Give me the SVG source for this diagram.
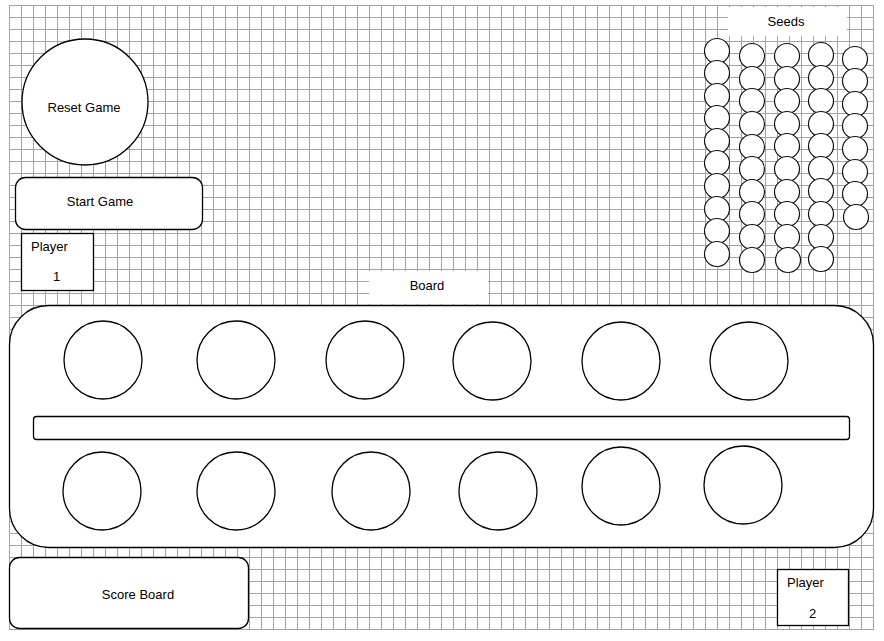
<svg xmlns="http://www.w3.org/2000/svg" width="884" height="641" viewBox="0 0 884 641">
<style>
.shape{fill:#fff;stroke:#000;stroke-width:1.3}
.seed{fill:#fff;stroke:#111;stroke-width:1.2}
.lbl{font-family:"Liberation Sans",Arial,sans-serif;font-size:13px;fill:#000}
.c{text-anchor:middle}
</style>
<defs>
<pattern id="grid" patternUnits="userSpaceOnUse" x="9" y="5" width="12" height="12">
<path d="M0.5 0V12M0 0.5H12" fill="none" stroke="#a3a3a3" stroke-width="1"/>
</pattern>
</defs>
<rect width="884" height="641" fill="#fff"/>
<rect x="9" y="5" width="865" height="625" fill="url(#grid)"/>

<g id="reset-game">
<circle class="shape" cx="85" cy="102" r="63"/>
<text class="lbl c" x="84" y="112">Reset Game</text>
</g>
<g id="start-game">
<rect class="shape" x="15.5" y="177.5" width="187" height="52" rx="10"/>
<text class="lbl c" x="100" y="206">Start Game</text>
</g>
<g id="player-1">
<rect class="shape" x="21.5" y="233.5" width="72" height="57"/>
<text class="lbl" x="31" y="251">Player</text>
<text class="lbl" x="53" y="281">1</text>
</g>
<g id="seeds-label">
<rect x="728" y="7" width="119" height="29" fill="#fff"/>
<text class="lbl c" x="786" y="26">Seeds</text>
</g>
<g id="seeds">
<circle class="seed" cx="717" cy="51" r="12.5"/>
<circle class="seed" cx="717" cy="73" r="12.5"/>
<circle class="seed" cx="717" cy="96" r="12.5"/>
<circle class="seed" cx="717" cy="118" r="12.5"/>
<circle class="seed" cx="717" cy="141" r="12.5"/>
<circle class="seed" cx="717" cy="163" r="12.5"/>
<circle class="seed" cx="717" cy="186" r="12.5"/>
<circle class="seed" cx="717" cy="209" r="12.5"/>
<circle class="seed" cx="717" cy="231" r="12.5"/>
<circle class="seed" cx="717" cy="254" r="12.5"/>
<circle class="seed" cx="752" cy="56" r="12.5"/>
<circle class="seed" cx="752" cy="79" r="12.5"/>
<circle class="seed" cx="752" cy="101" r="12.5"/>
<circle class="seed" cx="752" cy="124" r="12.5"/>
<circle class="seed" cx="752" cy="147" r="12.5"/>
<circle class="seed" cx="752" cy="169" r="12.5"/>
<circle class="seed" cx="752" cy="192" r="12.5"/>
<circle class="seed" cx="752" cy="214" r="12.5"/>
<circle class="seed" cx="752" cy="237" r="12.5"/>
<circle class="seed" cx="752" cy="260" r="12.5"/>
<circle class="seed" cx="787" cy="56" r="12.5"/>
<circle class="seed" cx="787" cy="79" r="12.5"/>
<circle class="seed" cx="787" cy="101" r="12.5"/>
<circle class="seed" cx="787" cy="124" r="12.5"/>
<circle class="seed" cx="787" cy="146" r="12.5"/>
<circle class="seed" cx="787" cy="169" r="12.5"/>
<circle class="seed" cx="787" cy="192" r="12.5"/>
<circle class="seed" cx="787" cy="214" r="12.5"/>
<circle class="seed" cx="787" cy="237" r="12.5"/>
<circle class="seed" cx="788" cy="260" r="12.5"/>
<circle class="seed" cx="821" cy="55" r="12.5"/>
<circle class="seed" cx="821" cy="78" r="12.5"/>
<circle class="seed" cx="821" cy="101" r="12.5"/>
<circle class="seed" cx="821" cy="124" r="12.5"/>
<circle class="seed" cx="821" cy="146" r="12.5"/>
<circle class="seed" cx="821" cy="169" r="12.5"/>
<circle class="seed" cx="821" cy="191" r="12.5"/>
<circle class="seed" cx="821" cy="214" r="12.5"/>
<circle class="seed" cx="821" cy="237" r="12.5"/>
<circle class="seed" cx="821" cy="259" r="12.5"/>
<circle class="seed" cx="855" cy="59" r="12.5"/>
<circle class="seed" cx="855" cy="81" r="12.5"/>
<circle class="seed" cx="855" cy="104" r="12.5"/>
<circle class="seed" cx="855" cy="126" r="12.5"/>
<circle class="seed" cx="855" cy="149" r="12.5"/>
<circle class="seed" cx="855" cy="172" r="12.5"/>
<circle class="seed" cx="855" cy="194" r="12.5"/>
<circle class="seed" cx="856" cy="217" r="12.5"/>
</g>
<g id="board-label">
<rect x="369" y="271" width="119" height="33" fill="#fff"/>
<text class="lbl c" x="427" y="290">Board</text>
</g>
<g id="board">
<rect class="shape" x="9.5" y="305.5" width="864" height="242" rx="39"/>
<rect class="shape" x="33.5" y="416.5" width="816" height="23" rx="3"/>
</g>
<g id="pits-top">
<circle class="shape" cx="103" cy="360" r="39"/>
<circle class="shape" cx="236" cy="360" r="39"/>
<circle class="shape" cx="365" cy="360" r="39"/>
<circle class="shape" cx="492" cy="361" r="39"/>
<circle class="shape" cx="621" cy="361" r="39"/>
<circle class="shape" cx="749" cy="361" r="39"/>
</g>
<g id="pits-bottom">
<circle class="shape" cx="102" cy="491" r="39"/>
<circle class="shape" cx="236" cy="491" r="39"/>
<circle class="shape" cx="371" cy="491" r="39"/>
<circle class="shape" cx="498" cy="491" r="39"/>
<circle class="shape" cx="621" cy="486" r="39"/>
<circle class="shape" cx="743" cy="485" r="39"/>
</g>
<g id="score-board">
<rect class="shape" x="9.5" y="557.5" width="239" height="71" rx="10"/>
<text class="lbl c" x="138" y="599">Score Board</text>
</g>
<g id="player-2">
<rect class="shape" x="777.5" y="569.5" width="71" height="56"/>
<text class="lbl" x="787" y="587">Player</text>
<text class="lbl" x="809" y="618">2</text>
</g>
<g id="connectors"/>
</svg>
